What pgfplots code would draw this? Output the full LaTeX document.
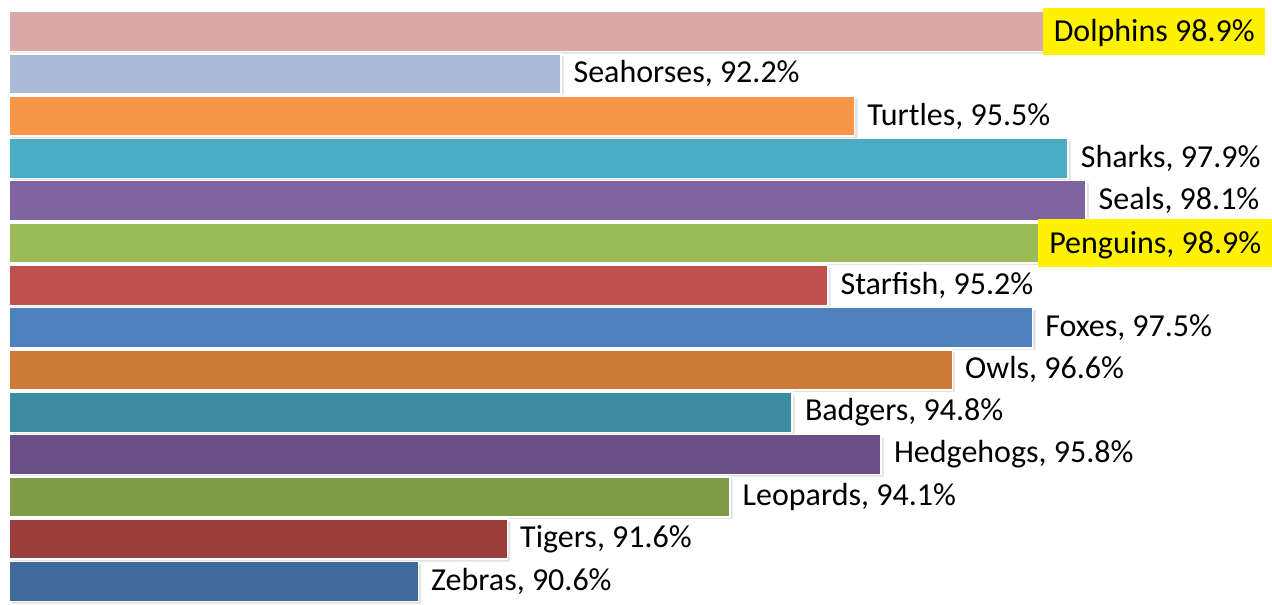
\documentclass[border=0pt]{standalone}
\usepackage{pgfplots}
\pgfplotsset{compat=1.18}
\usetikzlibrary{shadows}
\usepackage{fontspec}
\setmainfont{Carlito}
\definecolor{cDol}{RGB}{217,169,169}
\definecolor{cSea}{RGB}{170,186,215}
\definecolor{cTur}{RGB}{247,150,70}
\definecolor{cSha}{RGB}{75,172,198}
\definecolor{cSel}{RGB}{128,100,162}
\definecolor{cPen}{RGB}{155,187,89}
\definecolor{cSta}{RGB}{192,80,77}
\definecolor{cFox}{RGB}{79,129,189}
\definecolor{cOwl}{RGB}{204,123,56}
\definecolor{cBad}{RGB}{61,140,160}
\definecolor{cHed}{RGB}{106,80,134}
\definecolor{cLeo}{RGB}{127,155,72}
\definecolor{cTig}{RGB}{155,61,59}
\definecolor{cZeb}{RGB}{64,106,154}
\begin{document}
\begin{tikzpicture}
\begin{axis}[
  name=ax,
  width=636pt, height=302pt, scale only axis,
  xmin=-0.101, xmax=14.191, ymin=-0.534, ymax=13.745,
  hide axis,
  xbar, bar width=0.95, bar shift=0pt,
  x filter/.expression={x-86},
  every axis plot/.append style={draw=white, line width=0.8pt,
    drop shadow={opacity=0.22, shadow xshift=1.5pt, shadow yshift=-1.2pt}},
  nodes near coords style={font=\fontsize{16}{19}\selectfont, text=black, anchor=west, inner sep=0pt, xshift=6pt},
]
\addplot[fill=cDol, nodes near coords={\rule[-6.6pt]{0pt}{23.5pt}Dolphins 98.9\%}, nodes near coords style={anchor=east, xshift=48.5pt, fill=yellow, inner xsep=5.25pt, inner ysep=0pt}] coordinates {(98.9,13)};
\addplot[fill=cSea, nodes near coords={Seahorses, 92.2\%}] coordinates {(92.2,12)};
\addplot[fill=cTur, nodes near coords={Turtles, 95.5\%}] coordinates {(95.5,11)};
\addplot[fill=cSha, nodes near coords={Sharks, 97.9\%}] coordinates {(97.9,10)};
\addplot[fill=cSel, nodes near coords={Seals, 98.1\%}] coordinates {(98.1,9)};
\addplot[fill=cPen, nodes near coords={\rule[-6.6pt]{0pt}{24pt}Penguins, 98.9\%}, nodes near coords style={anchor=east, xshift=52pt, fill=yellow, inner xsep=5.5pt, inner ysep=0pt}] coordinates {(98.9,8)};
\addplot[fill=cSta, nodes near coords={Starfish, 95.2\%}] coordinates {(95.2,7)};
\addplot[fill=cFox, nodes near coords={Foxes, 97.5\%}] coordinates {(97.5,6)};
\addplot[fill=cOwl, nodes near coords={Owls, 96.6\%}] coordinates {(96.6,5)};
\addplot[fill=cBad, nodes near coords={Badgers, 94.8\%}] coordinates {(94.8,4)};
\addplot[fill=cHed, nodes near coords={Hedgehogs, 95.8\%}] coordinates {(95.8,3)};
\addplot[fill=cLeo, nodes near coords={Leopards, 94.1\%}] coordinates {(94.1,2)};
\addplot[fill=cTig, nodes near coords={Tigers, 91.6\%}] coordinates {(91.6,1)};
\addplot[fill=cZeb, nodes near coords={Zebras, 90.6\%}] coordinates {(90.6,0)};
\end{axis}
\pgfresetboundingbox
\path (ax.south west) rectangle (ax.north east);
\end{tikzpicture}
\end{document}
